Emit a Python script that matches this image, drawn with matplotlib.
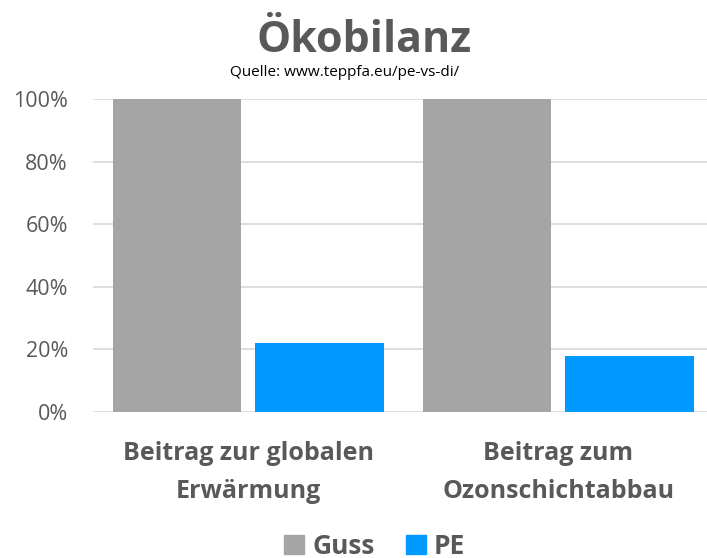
import matplotlib.pyplot as plt
import numpy as np
from matplotlib.patches import Patch
from matplotlib.ticker import PercentFormatter

categories = ["Beitrag zur globalen\nErwärmung", "Beitrag zum\nOzonschichtabbau"]
series_names = ["Guss", "PE"]
guss_values = [100, 100]
pe_values = [22, 18]

TEXT = "#595959"
GRID = "#d9d9d9"
COLORS = ["#a5a5a5", "#0099ff"]

plt.rcParams["font.family"] = ["Open Sans", "DejaVu Sans"]

fig = plt.figure(figsize=(7.07, 5.58), dpi=100)
ax = fig.add_axes([93 / 707, 1 - 412 / 558, 614 / 707, 313 / 558])

x = np.arange(len(categories))
width = 0.414
offset = 0.23
ax.bar(x - offset, guss_values, width, color=COLORS[0], zorder=2)
ax.bar(x + offset, pe_values, width, color=COLORS[1], zorder=2)

ax.set_xlim(-0.5, 1.48)
ax.set_ylim(0, 100)
ax.set_yticks(np.arange(0, 101, 20))
ax.yaxis.set_major_formatter(PercentFormatter(decimals=0))
ax.grid(axis="y", color=GRID, linewidth=1.2, zorder=0)
for s in ax.spines.values():
    s.set_visible(False)
ax.tick_params(axis="y", length=0, labelsize=15.5, labelcolor=TEXT, pad=18)
ax.tick_params(axis="x", length=0)
ax.set_xticks(x)
ax.set_xticklabels(categories, fontsize=18, fontweight="bold", color=TEXT, linespacing=1.65)
ax.tick_params(axis="x", pad=21)

fig.text(0.515, 1 - 40 / 558, "Ökobilanz", ha="center", va="center",
         fontsize=31, fontweight="bold", color=TEXT)
fig.text(0.487, 1 - 72 / 558, "Quelle: www.teppfa.eu/pe-vs-di/", ha="center", va="center",
         fontsize=11, color="black")

handles = [Patch(color=c) for c in COLORS]
fig.legend(handles, series_names, loc="center", bbox_to_anchor=(0.53, 1 - 546 / 558),
           ncol=2, frameon=False, handlelength=0.75, handleheight=0.75, handletextpad=0.3,
           columnspacing=1.2, prop={"size": 19, "weight": "bold"}, labelcolor=TEXT)

fig.savefig("out.png", dpi=100)
